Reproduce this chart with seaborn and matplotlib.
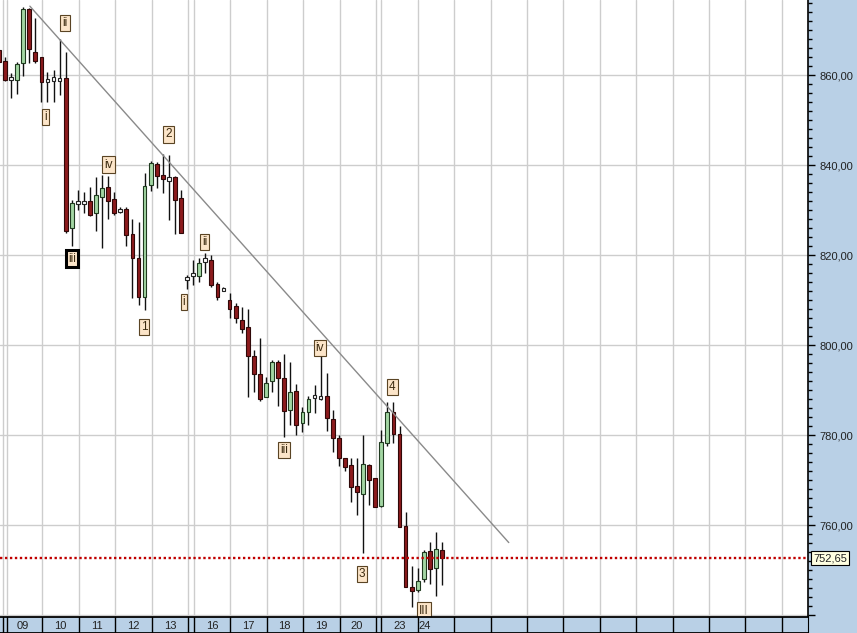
import matplotlib
matplotlib.use("Agg")
import matplotlib.pyplot as plt
import matplotlib.transforms as mtransforms
from matplotlib.ticker import MultipleLocator, FixedLocator, FuncFormatter
import numpy as np
import pandas as pd
import seaborn as sns

# ---------------- data (candle index k = -1 .. 72) ----------------
candle_idx = list(range(-1, 73))
opens = [865.5, 863.1, 859.2, 859.0, 862.6, 874.6, 865.2, 863.9, 858.8, 859.1,
         859.0, 859.4, 825.9, 831.7, 831.7, 832.0, 829.4, 833.0, 835.2, 832.4,
         829.9, 830.3, 824.7, 819.4, 810.7, 835.6, 840.2, 837.8, 836.9, 837.4,
         832.6, 814.8, 815.7, 815.4, 818.9, 818.9, 813.5, 812.3, 810.0, 808.6,
         805.6, 803.9, 797.6, 793.6, 788.5, 791.9, 796.2, 792.6, 785.6, 789.7,
         782.6, 785.2, 788.6, 788.4, 788.7, 783.5, 779.3, 774.8, 773.3, 768.7,
         767.0, 773.3, 770.4, 764.2, 778.2, 785.2, 780.2, 759.8, 746.2, 745.6,
         748.1, 754.3, 750.4, 754.4]
closes = [863.0, 858.9, 859.2, 862.4, 874.6, 865.7, 863.1, 858.5, 858.8, 859.1,
          859.0, 825.3, 831.6, 831.7, 831.7, 829.0, 833.3, 835.0, 832.1, 829.4,
          829.9, 824.4, 819.4, 810.6, 835.3, 840.4, 837.6, 836.8, 836.9, 832.2,
          825.0, 814.8, 815.7, 818.3, 818.9, 813.3, 810.6, 812.3, 807.9, 805.9,
          803.5, 797.6, 793.6, 787.9, 791.6, 796.2, 792.7, 785.3, 789.5, 782.2,
          785.2, 787.9, 788.6, 788.4, 783.7, 779.3, 775.0, 772.8, 768.4, 767.3,
          773.5, 770.0, 764.1, 778.5, 785.2, 780.2, 759.5, 746.3, 745.4, 747.6,
          754.1, 750.2, 754.6, 752.65]
highs = [866.5, 864.0, 860.5, 863.0, 875.1, 875.0, 872.6, 863.9, 860.7, 861.1,
         868.1, 865.2, 832.2, 834.4, 834.0, 835.2, 837.4, 837.8, 837.6, 834.0,
         830.7, 830.6, 827.9, 827.4, 838.2, 841.0, 840.7, 842.4, 842.2, 837.6,
         834.4, 815.5, 819.0, 819.3, 820.5, 820.0, 814.1, 812.8, 811.5, 809.3,
         808.4, 808.1, 798.9, 801.6, 793.0, 796.7, 796.7, 797.9, 796.2, 791.3,
         786.3, 788.7, 791.1, 798.1, 793.7, 785.6, 780.0, 774.8, 774.8, 775.0,
         780.0, 773.5, 770.4, 781.1, 787.4, 787.4, 782.0, 763.0, 750.9, 750.4,
         754.4, 756.3, 758.5, 756.3]
lows = [862.0, 858.7, 855.0, 855.7, 859.8, 862.7, 862.7, 854.1, 854.1, 854.1,
        855.6, 825.0, 822.0, 830.0, 829.3, 828.7, 825.3, 821.5, 828.1, 829.0,
        829.3, 822.0, 810.4, 808.9, 807.8, 834.3, 835.0, 833.8, 827.8, 824.7,
        825.0, 812.5, 813.3, 813.9, 815.9, 813.0, 810.0, 812.0, 805.9, 804.8,
        802.7, 788.5, 789.6, 787.6, 788.5, 789.5, 786.4, 779.6, 782.2, 779.9,
        780.7, 782.2, 785.0, 787.8, 780.9, 776.3, 773.1, 771.9, 765.2, 762.2,
        753.7, 764.4, 763.9, 764.1, 777.6, 778.2, 759.5, 746.2, 741.7, 745.2,
        747.4, 747.0, 744.2, 746.7]

last_price = 752.65

# day separators (in candle-index units) and day labels
day_lines = [-0.33, 0.33, 6.1, 12.2, 18.1, 24.2, 30.15, 31.1, 37.1, 43.2, 49.1,
             55.2, 61.1, 61.9, 68.0, 74.0, 80.0, 86.0, 92.0, 98.0, 104.0, 110.0,
             116.0, 122.0, 128.0]
day_labels = ["09", "10", "11", "12", "13", "16", "17", "18", "19", "20", "23", "24"]
day_label_pos = [3.0, 9.05, 15.1, 21.1, 27.2, 34.1, 40.1, 46.0, 52.1, 57.9, 65.0, 69.2]

# trend line
trend_k = [4.1, 83.0]
trend_v = [875.3, 756.1]

# wave labels
wave_text = ["ii", "i", "iii", "iv", "2", "1", "ii", "i", "iv", "iii", "4", "3", "III"]
wave_k = [9.9, 6.7, 11.1, 17.1, 26.9, 22.9, 32.9, 29.5, 51.9, 46.0, 63.8, 58.8, 69.0]
wave_v = [871.5, 850.6, 819.2, 840.1, 846.8, 804.0, 822.9, 809.6, 799.3, 776.7, 790.7, 749.1, 741.0]
wave_bold = [False, False, True, False, False, False, False, False, False, False, False, False, False]

# ---------------- styling ----------------
sns.set_style("white")
plt.rcParams['font.family'] = ['Liberation Sans', 'DejaVu Sans']

W, H = 857, 633
LIGHT_BLUE = '#b9d0e6'
GRID = '#cdcdcd'

fig = plt.figure(figsize=(W / 100, H / 100), dpi=100, facecolor=LIGHT_BLUE)
ax = fig.add_axes([0, 16 / H, 808 / W, 617 / H])
ax.set_facecolor('white')
ax_s = fig.add_axes([0, 0, 808 / W, 16 / H], sharex=ax)
ax_s.set_facecolor(LIGHT_BLUE)

df = pd.DataFrame({'k': candle_idx, 'open': opens, 'high': highs,
                   'low': lows, 'close': closes})

# grid
for v in range(740, 880, 20):
    ax.axhline(v, color=GRID, lw=1, zorder=0)
for xl in day_lines:
    ax.axvline(xl, color=GRID, lw=1, zorder=0)

# candles
body_col = []
edge_col = []
for o, c in zip(df['open'], df['close']):
    if c > o:
        body_col.append('#a3d6a3'); edge_col.append('#1f3a1f')
    elif c < o:
        body_col.append('#8c1b1d'); edge_col.append('#300808')
    else:
        body_col.append('#ffffff'); edge_col.append('#222222')
body_h = np.maximum(np.abs(df['close'] - df['open']), 0.75)
body_b = np.minimum(df['open'], df['close']) - np.where(df['close'] == df['open'], 0.375, 0)
ax.vlines(df['k'], df['low'], df['high'], color='#111111', lw=1.0, zorder=2)
ax.bar(df['k'], body_h, bottom=body_b, width=0.62, color=body_col,
       edgecolor=edge_col, linewidth=0.8, zorder=3)

# trend line
sns.lineplot(x=trend_k, y=trend_v, ax=ax, color='#8a8a8a', lw=1.0, zorder=4)

# last price dotted line
ax.axhline(last_price, color='#c00000', lw=1.7, ls=(0, (1, 1.1)), zorder=5)

# wave labels
for s, xk, yv, b in zip(wave_text, wave_k, wave_v, wave_bold):
    ax.text(xk, yv, s, ha='center', va='center', fontsize=8.5, color='#3a2a10',
            zorder=6,
            bbox=dict(boxstyle='square,pad=0.18', fc='#fce5c9',
                      ec='black' if b else '#5a4424', lw=2.2 if b else 0.8))

ax.set_xlim(-0.82, 132.3)
ax.set_ylim(739.56, 876.67)

# axes styling
for side in ['left', 'top', 'bottom']:
    ax.spines[side].set_visible(False)
ax.spines['right'].set_color('black')
ax.spines['right'].set_linewidth(1.2)
ax.tick_params(axis='x', which='both', bottom=False, labelbottom=False)
ax.yaxis.tick_right()
ax.yaxis.set_major_locator(MultipleLocator(20))
ax.yaxis.set_minor_locator(MultipleLocator(2))
ax.yaxis.set_major_formatter(FuncFormatter(
    lambda v, p: '' if v < 750 else f"{v:.2f}".replace('.', ',')))
ax.tick_params(axis='y', which='major', direction='out', length=5, width=1,
               color='black', labelsize=8, pad=3, labelcolor='#222222')
ax.tick_params(axis='y', which='minor', direction='out', length=3, width=1,
               color='black')

tr = mtransforms.blended_transform_factory(ax.transAxes, ax.transData)
ax.text(1 + 5 / 808, last_price, f"{last_price:.2f}".replace('.', ','),
        transform=tr, ha='left', va='center', fontsize=8, color='#222222',
        clip_on=False, zorder=7,
        bbox=dict(boxstyle='square,pad=0.2', fc='#ffffe1', ec='black', lw=0.8))

# date strip
ax_s.set_ylim(0, 1)
for xl in day_lines:
    ax_s.axvline(xl, color='black', lw=1)
for lab, xp in zip(day_labels, day_label_pos):
    ax_s.text(xp, 0.45, lab, ha='center', va='center', fontsize=8, color='#222222')
for side in ['left', 'right']:
    ax_s.spines[side].set_visible(False)
ax_s.spines['top'].set_color('black'); ax_s.spines['top'].set_linewidth(1.3)
ax_s.spines['bottom'].set_color('black'); ax_s.spines['bottom'].set_linewidth(1.3)
ax_s.spines['right'].set_visible(True); ax_s.spines['right'].set_color('black')
ax_s.tick_params(left=False, bottom=False, labelleft=False, labelbottom=False)

fig.savefig('out.png', dpi=100, facecolor=LIGHT_BLUE)
